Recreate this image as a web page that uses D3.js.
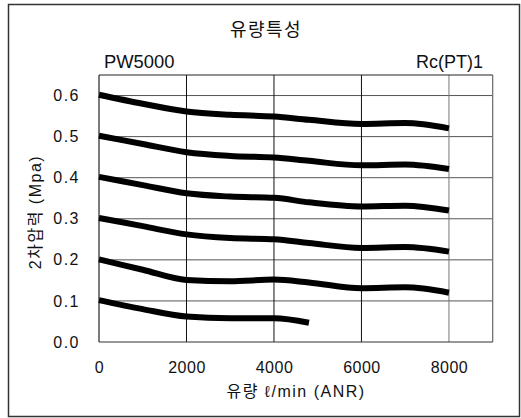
<!DOCTYPE html>
<html><head><meta charset="utf-8">
<script src="https://cdn.jsdelivr.net/npm/d3@7"></script>
<style>
html,body{margin:0;padding:0;background:#fff;}
svg{display:block;}
text{font-family:"Liberation Sans","Noto Sans CJK KR",sans-serif;fill:#111;}
</style></head>
<body>
<script>
const title = "유량특성";
const modelLabel = "PW5000";
const portLabel = "Rc(PT)1";
const xTitle = "유량 ℓ/min (ANR)";
const yTitle = "2차압력 (Mpa)";
const xTicks = [0, 2000, 4000, 6000, 8000];
const yTicks = [0.0, 0.1, 0.2, 0.3, 0.4, 0.5, 0.6];
const flow = [0, 1000, 2000, 3000, 4000, 4800, 6000, 7000, 8000];
const p06 = [0.602, 0.580, 0.561, 0.553, 0.549, 0.541, 0.531, 0.533, 0.520];
const p05 = [0.502, 0.482, 0.462, 0.453, 0.449, 0.441, 0.430, 0.432, 0.421];
const p04 = [0.402, 0.382, 0.362, 0.354, 0.351, 0.340, 0.330, 0.332, 0.320];
const p03 = [0.302, 0.282, 0.262, 0.253, 0.250, 0.241, 0.229, 0.231, 0.220];
const p02 = [0.201, 0.176, 0.151, 0.148, 0.152, 0.145, 0.131, 0.133, 0.120];
const flow01 = [0, 1000, 2000, 3000, 4000, 4800];
const p01 = [0.102, 0.080, 0.062, 0.058, 0.058, 0.047];

const W = 521, H = 418;
const svg = d3.select("body").append("svg").attr("width", W).attr("height", H);

svg.append("rect").attr("x", 8.5).attr("y", 4.5).attr("width", 511).attr("height", 412)
  .attr("fill", "none").attr("stroke", "#333").attr("stroke-width", 1.5);

const L = 99, R = 492.7, T = 75, B = 342;
const x = d3.scaleLinear().domain([0, 9000]).range([L, R]);
const y = d3.scaleLinear().domain([0, 0.65]).range([B, T]);

// grid
const g = svg.append("g");
g.selectAll("line.h").data(yTicks.filter(d => d > 0)).enter().append("line")
  .attr("x1", L).attr("x2", R).attr("y1", d => y(d)).attr("y2", d => y(d))
  .attr("stroke", "#555").attr("stroke-width", 1);
g.selectAll("line.v").data(xTicks.filter(d => d > 0)).enter().append("line")
  .attr("y1", T).attr("y2", B).attr("x1", d => x(d)).attr("x2", d => x(d))
  .attr("stroke", d => d === 8000 ? "#777" : "#111").attr("stroke-width", 1);
// frame
g.append("line").attr("x1", L).attr("x2", L).attr("y1", T).attr("y2", B).attr("stroke", "#222").attr("stroke-width", 1.2);
g.append("line").attr("x1", L).attr("x2", R).attr("y1", T).attr("y2", T).attr("stroke", "#222").attr("stroke-width", 1.2);
g.append("line").attr("x1", R).attr("x2", R).attr("y1", T).attr("y2", B).attr("stroke", "#666").attr("stroke-width", 1.2);
g.append("line").attr("x1", L).attr("x2", R).attr("y1", B).attr("y2", B).attr("stroke", "#333").attr("stroke-width", 1.2);

// axes labels via d3 axes
const xAxis = d3.axisBottom(x).tickValues(xTicks).tickSize(0).tickPadding(0).tickFormat(d3.format("d"));
const xa = svg.append("g").attr("transform", `translate(0,${B + 20})`).call(xAxis);
xa.select(".domain").remove();
xa.selectAll("text").attr("font-size", 16).attr("font-family", "Liberation Sans").attr("fill", "#111").attr("letter-spacing", "0.5px");

const yAxis = d3.axisLeft(y).tickValues(yTicks).tickSize(0).tickPadding(0).tickFormat(d3.format(".1f"));
const ya = svg.append("g").attr("transform", `translate(${L - 19},0)`).call(yAxis);
ya.select(".domain").remove();
ya.selectAll("text").attr("font-size", 16).attr("font-family", "Liberation Sans").attr("fill", "#111").attr("letter-spacing", "1.5px");

// curves
const line = d3.line().x(d => x(d[0])).y(d => y(d[1])).curve(d3.curveMonotoneX);
const series = [p06, p05, p04, p03, p02].map(s => flow.map((f, i) => [f, s[i]]));
series.push(flow01.map((f, i) => [f, p01[i]]));
svg.selectAll("path.c").data(series).enter().append("path")
  .attr("d", line).attr("fill", "none").attr("stroke", "#000").attr("stroke-width", 6)
  .attr("stroke-linecap", "butt").attr("stroke-linejoin", "round");

// texts
svg.append("text").attr("x", 266).attr("y", 36).attr("text-anchor", "middle")
  .attr("font-size", 18).attr("letter-spacing", "1.5px").attr("font-family", "Noto Sans CJK KR").text(title);
svg.append("text").attr("x", 104).attr("y", 67.5).attr("font-size", 18.4).text(modelLabel);
svg.append("text").attr("x", 483).attr("y", 67.5).attr("text-anchor", "end").attr("font-size", 18).text(portLabel);
svg.append("text").attr("x", 296).attr("y", 397).attr("text-anchor", "middle")
  .attr("font-size", 16).attr("letter-spacing", "1.5px").text(xTitle);
svg.append("text").attr("transform", `translate(41,212) rotate(-90)`).attr("text-anchor", "middle")
  .attr("font-size", 16).attr("letter-spacing", "1.5px").text(yTitle);
</script>
</body></html>
